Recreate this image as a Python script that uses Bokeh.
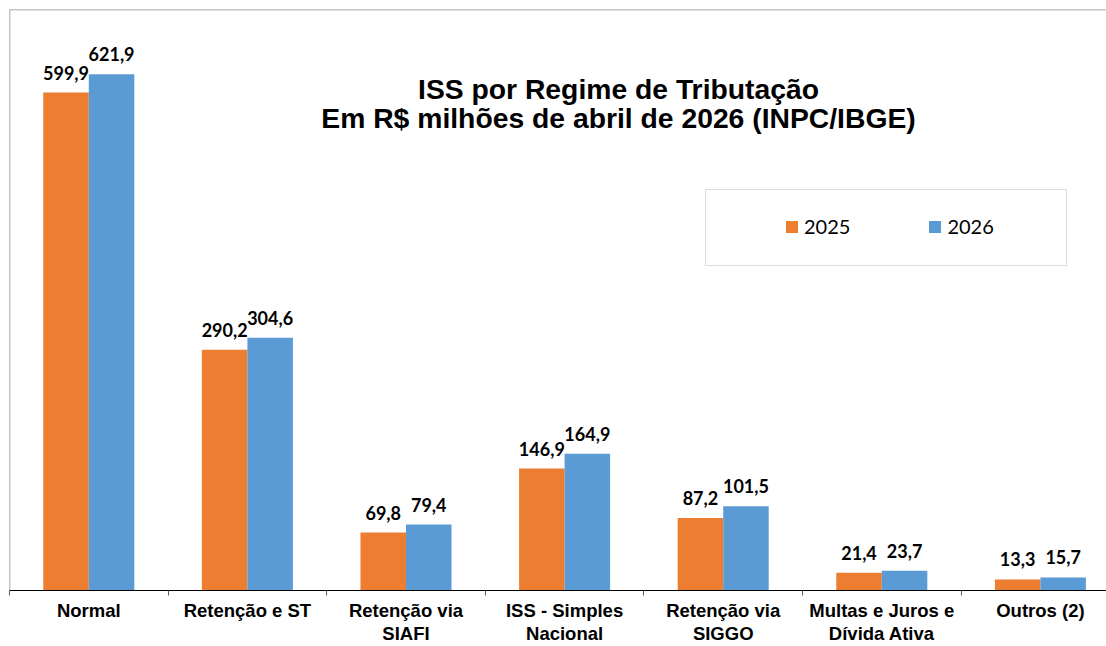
from bokeh.plotting import figure
from bokeh.models import (ColumnDataSource, FixedTicker, Span, Label, BoxAnnotation,
                          Legend, LegendItem, Range1d)
from bokeh.embed import file_html
from bokeh.resources import INLINE
from bokeh.core.properties import value

# ---------------- data ----------------
categories = ["Normal", "Retenção e ST", "Retenção via\nSIAFI", "ISS - Simples\nNacional",
              "Retenção via\nSIGGO", "Multas e Juros e\nDívida Ativa", "Outros (2)"]
series_names = ["2025", "2026"]
values_2025 = [599.9, 290.2, 69.8, 146.9, 87.2, 21.4, 13.3]
values_2026 = [621.9, 304.6, 79.4, 164.9, 101.5, 23.7, 15.7]
title_lines = ["ISS por Regime de Tributação",
               "Em R$ milhões de abril de 2026 (INPC/IBGE)"]

# ---------------- styles / layout ----------------
ORANGE = "#ED7D31"
BLUE = "#5B9BD5"
BORDER = "#8c8c8c"
W, H = 1106, 646
MB_L, MB_T, MB_R, MB_B = 9, 9, 0, 56
FRAME_W = W - MB_L - MB_R
FRAME_H = H - MB_T - MB_B
CAT_PX = 158.6
X_END = FRAME_W / CAT_PX
Y_END = 700
X_SCALE = FRAME_W / X_END
Y_SCALE = FRAME_H / Y_END
PAGE_X0 = MB_L            # frame left in page px
PAGE_Y1 = MB_T + FRAME_H  # frame bottom in page px


def px2x(px):
    return (px - PAGE_X0) / X_SCALE


def px2y(py):
    return (PAGE_Y1 - py) / Y_SCALE


BAR_W = 0.287
n = len(categories)
centers = [i + 0.5 for i in range(n)]


def fmt(v):
    return f"{v:.1f}".replace(".", ",")


src25 = ColumnDataSource(dict(x=[c - BAR_W / 2 for c in centers], top=values_2025,
                              lab=[fmt(v) for v in values_2025]))
src26 = ColumnDataSource(dict(x=[c + BAR_W / 2 for c in centers], top=values_2026,
                              lab=[fmt(v) for v in values_2026]))

p = figure(width=W, height=H, x_range=Range1d(0, X_END), y_range=Range1d(0, Y_END),
           output_backend="svg", toolbar_location=None,
           min_border_left=MB_L, min_border_top=MB_T, min_border_right=MB_R,
           min_border_bottom=MB_B)
p.outline_line_color = None
p.background_fill_color = "white"
p.border_fill_color = "white"
p.xgrid.visible = False
p.ygrid.visible = False
p.yaxis.visible = False

# legend box (drawn first, below legend)
box = BoxAnnotation(left=px2x(705), right=px2x(1066), top=px2y(189), bottom=px2y(265),
                    fill_alpha=0, line_color=BORDER, line_width=1)
p.add_layout(box)

r25 = p.vbar(x="x", top="top", width=BAR_W, bottom=0, source=src25,
             fill_color=ORANGE, line_color=None)
r26 = p.vbar(x="x", top="top", width=BAR_W, bottom=0, source=src26,
             fill_color=BLUE, line_color=None)

for src in (src25, src26):
    p.text(x="x", y="top", text="lab", source=src, text_align="center",
           text_baseline="alphabetic", y_offset=-20,
           text_font=value("Lato"), text_font_style="bold", text_font_size="18px",
           text_color="#000000")

# frame lines (top and left)
p.add_layout(Span(location=Y_END, dimension="width", line_color=BORDER, line_width=1.5))
p.add_layout(Span(location=0, dimension="height", line_color=BORDER, line_width=1.5))

# title
for line, py in zip(title_lines, (88, 117)):
    p.add_layout(Label(x=px2x(618), y=px2y(py), text=line, text_align="center",
                       text_baseline="alphabetic", text_font="Liberation Sans",
                       text_font_style="bold", text_font_size="28.3px", text_color="#000000"))

# x axis: ticks between categories, labels at category centres
ax = p.xaxis[0]
ax.ticker = FixedTicker(ticks=centers, minor_ticks=list(range(n + 1)))
ax.major_label_overrides = {c: lab for c, lab in zip(centers, categories)}
ax.major_tick_out = 0
ax.major_tick_in = 0
ax.minor_tick_out = 5
ax.minor_tick_in = 0
ax.minor_tick_line_color = "#595959"
ax.axis_line_color = "#000000"
ax.axis_line_width = 1
ax.major_label_standoff = 4
ax.major_label_text_font = "Liberation Sans"
ax.major_label_text_font_style = "bold"
ax.major_label_text_font_size = "18.5px"
ax.major_label_text_line_height = 1.1
ax.major_label_text_color = "#000000"
ax.major_label_text_align = "center"

legend = Legend(items=[LegendItem(label=series_names[0], renderers=[r25]),
                       LegendItem(label=series_names[1], renderers=[r26])],
                orientation="horizontal", location=(775, 352),
                glyph_width=15, glyph_height=15, label_standoff=5, spacing=77,
                padding=0, margin=0, border_line_color=None, background_fill_alpha=0,
                label_text_font="Lato", label_text_font_size="20px",
                label_text_color="#000000")
p.add_layout(legend)

open("out.html", "w").write(file_html(p, INLINE))
